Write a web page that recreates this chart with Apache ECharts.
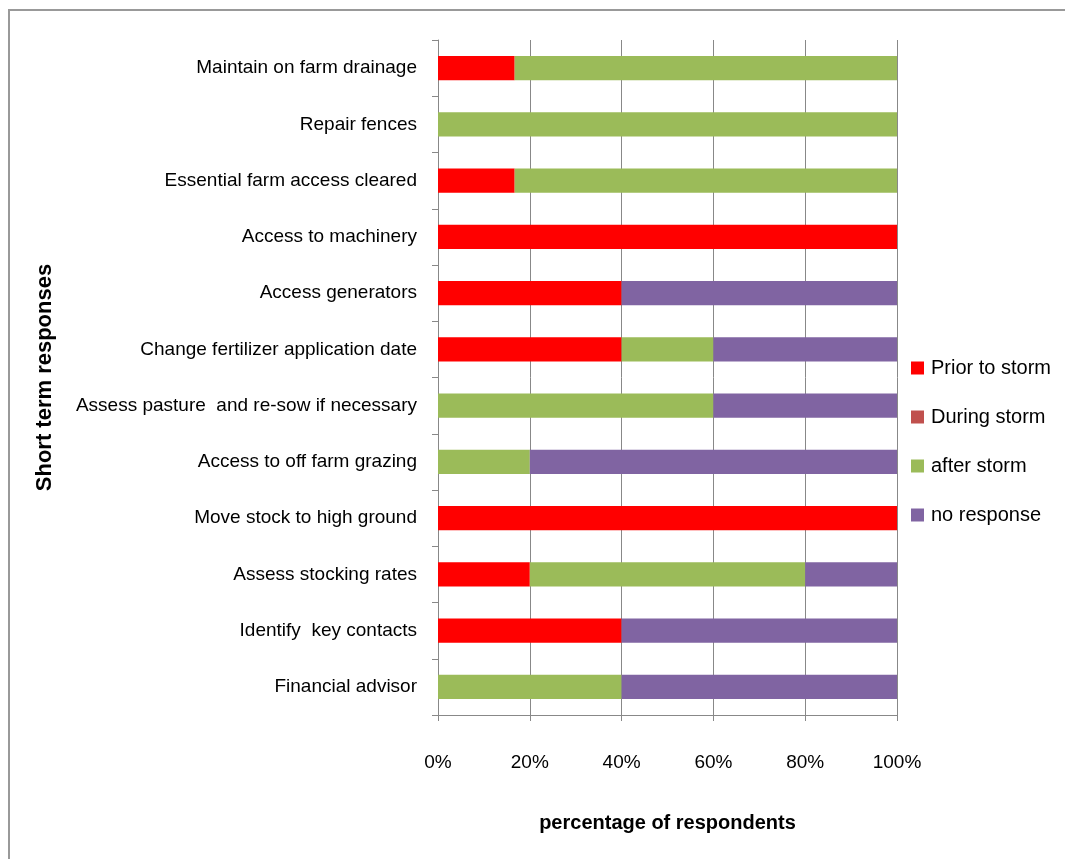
<!DOCTYPE html>
<html><head><meta charset="utf-8">
<script src="https://cdn.jsdelivr.net/npm/echarts@6/dist/echarts.min.js"></script>
<style>html,body{margin:0;padding:0;background:#fff}#c{width:1065px;height:859px}</style>
</head><body><div id="c"></div>
<script>
const categories = [
  "Maintain on farm drainage",
  "Repair fences",
  "Essential farm access cleared",
  "Access to machinery",
  "Access generators",
  "Change fertilizer application date",
  "Assess pasture  and re-sow if necessary",
  "Access to off farm grazing",
  "Move stock to high ground",
  "Assess stocking rates",
  "Identify  key contacts",
  "Financial advisor"
];
const priorToStorm = [16.7, 0, 16.7, 100, 40, 40, 0, 0, 100, 20, 40, 0];
const duringStorm  = [0, 0, 0, 0, 0, 0, 0, 0, 0, 0, 0, 0];
const afterStorm   = [83.3, 100, 83.3, 0, 0, 20, 60, 20, 0, 60, 0, 40];
const noResponse   = [0, 0, 0, 0, 60, 40, 40, 80, 0, 20, 60, 60];
const xTicks = [0, 20, 40, 60, 80, 100];

const FONT = '"Liberation Sans", sans-serif';
const chart = echarts.init(document.getElementById('c'), null, {renderer: 'canvas'});
const seriesDefs = [
  {name: 'Prior to storm', data: priorToStorm, color: '#FF0000'},
  {name: 'During storm', data: duringStorm, color: '#C0504D'},
  {name: 'after storm', data: afterStorm, color: '#9BBB59'},
  {name: 'no response', data: noResponse, color: '#8064A2'}
];
chart.setOption({
  animation: false,
  backgroundColor: '#fff',
  textStyle: {fontFamily: FONT},
  graphic: [{
    type: 'rect', shape: {x: 9, y: 10, width: 1200, height: 1000},
    style: {fill: 'none', stroke: '#999', lineWidth: 2}, silent: true
  }],
  grid: {left: 438, right: 168, top: 40, bottom: 144, containLabel: false},
  legend: {
    orient: 'vertical', left: 906, top: 353, itemGap: 29,
    itemWidth: 13, itemHeight: 13,
    icon: 'rect',
    textStyle: {fontFamily: FONT, fontSize: 20, color: '#000', padding: [0, 0, 0, 2]},
    data: seriesDefs.map(s => s.name)
  },
  xAxis: {
    type: 'value', min: 0, max: 100, interval: 20,
    axisLine: {show: true, lineStyle: {color: '#888', width: 1}},
    axisTick: {show: true, length: 6, lineStyle: {color: '#888'}},
    splitLine: {show: true, lineStyle: {color: '#888', width: 1}},
    axisLabel: {formatter: v => v + '%', color: '#000', fontSize: 19, fontFamily: FONT, margin: 38},
    name: 'percentage of respondents', nameLocation: 'middle', nameGap: 98,
    nameTextStyle: {fontFamily: FONT, fontSize: 20, fontWeight: 'bold', color: '#000'}
  },
  yAxis: {
    type: 'category', data: categories, inverse: true,
    axisLine: {show: true, lineStyle: {color: '#888', width: 1}},
    axisTick: {show: true, length: 6, lineStyle: {color: '#888'}},
    axisLabel: {color: '#000', fontSize: 19, fontFamily: FONT, margin: 21},
    name: 'Short term responses', nameLocation: 'middle', nameGap: 382, nameRotate: 90,
    nameTextStyle: {fontFamily: FONT, fontSize: 22, fontWeight: 'bold', color: '#000'}
  },
  series: seriesDefs.map(s => ({
    name: s.name, type: 'bar', stack: 'total', data: s.data,
    barWidth: '43%', itemStyle: {color: s.color},
    emphasis: {disabled: true}
  }))
});
</script></body></html>
